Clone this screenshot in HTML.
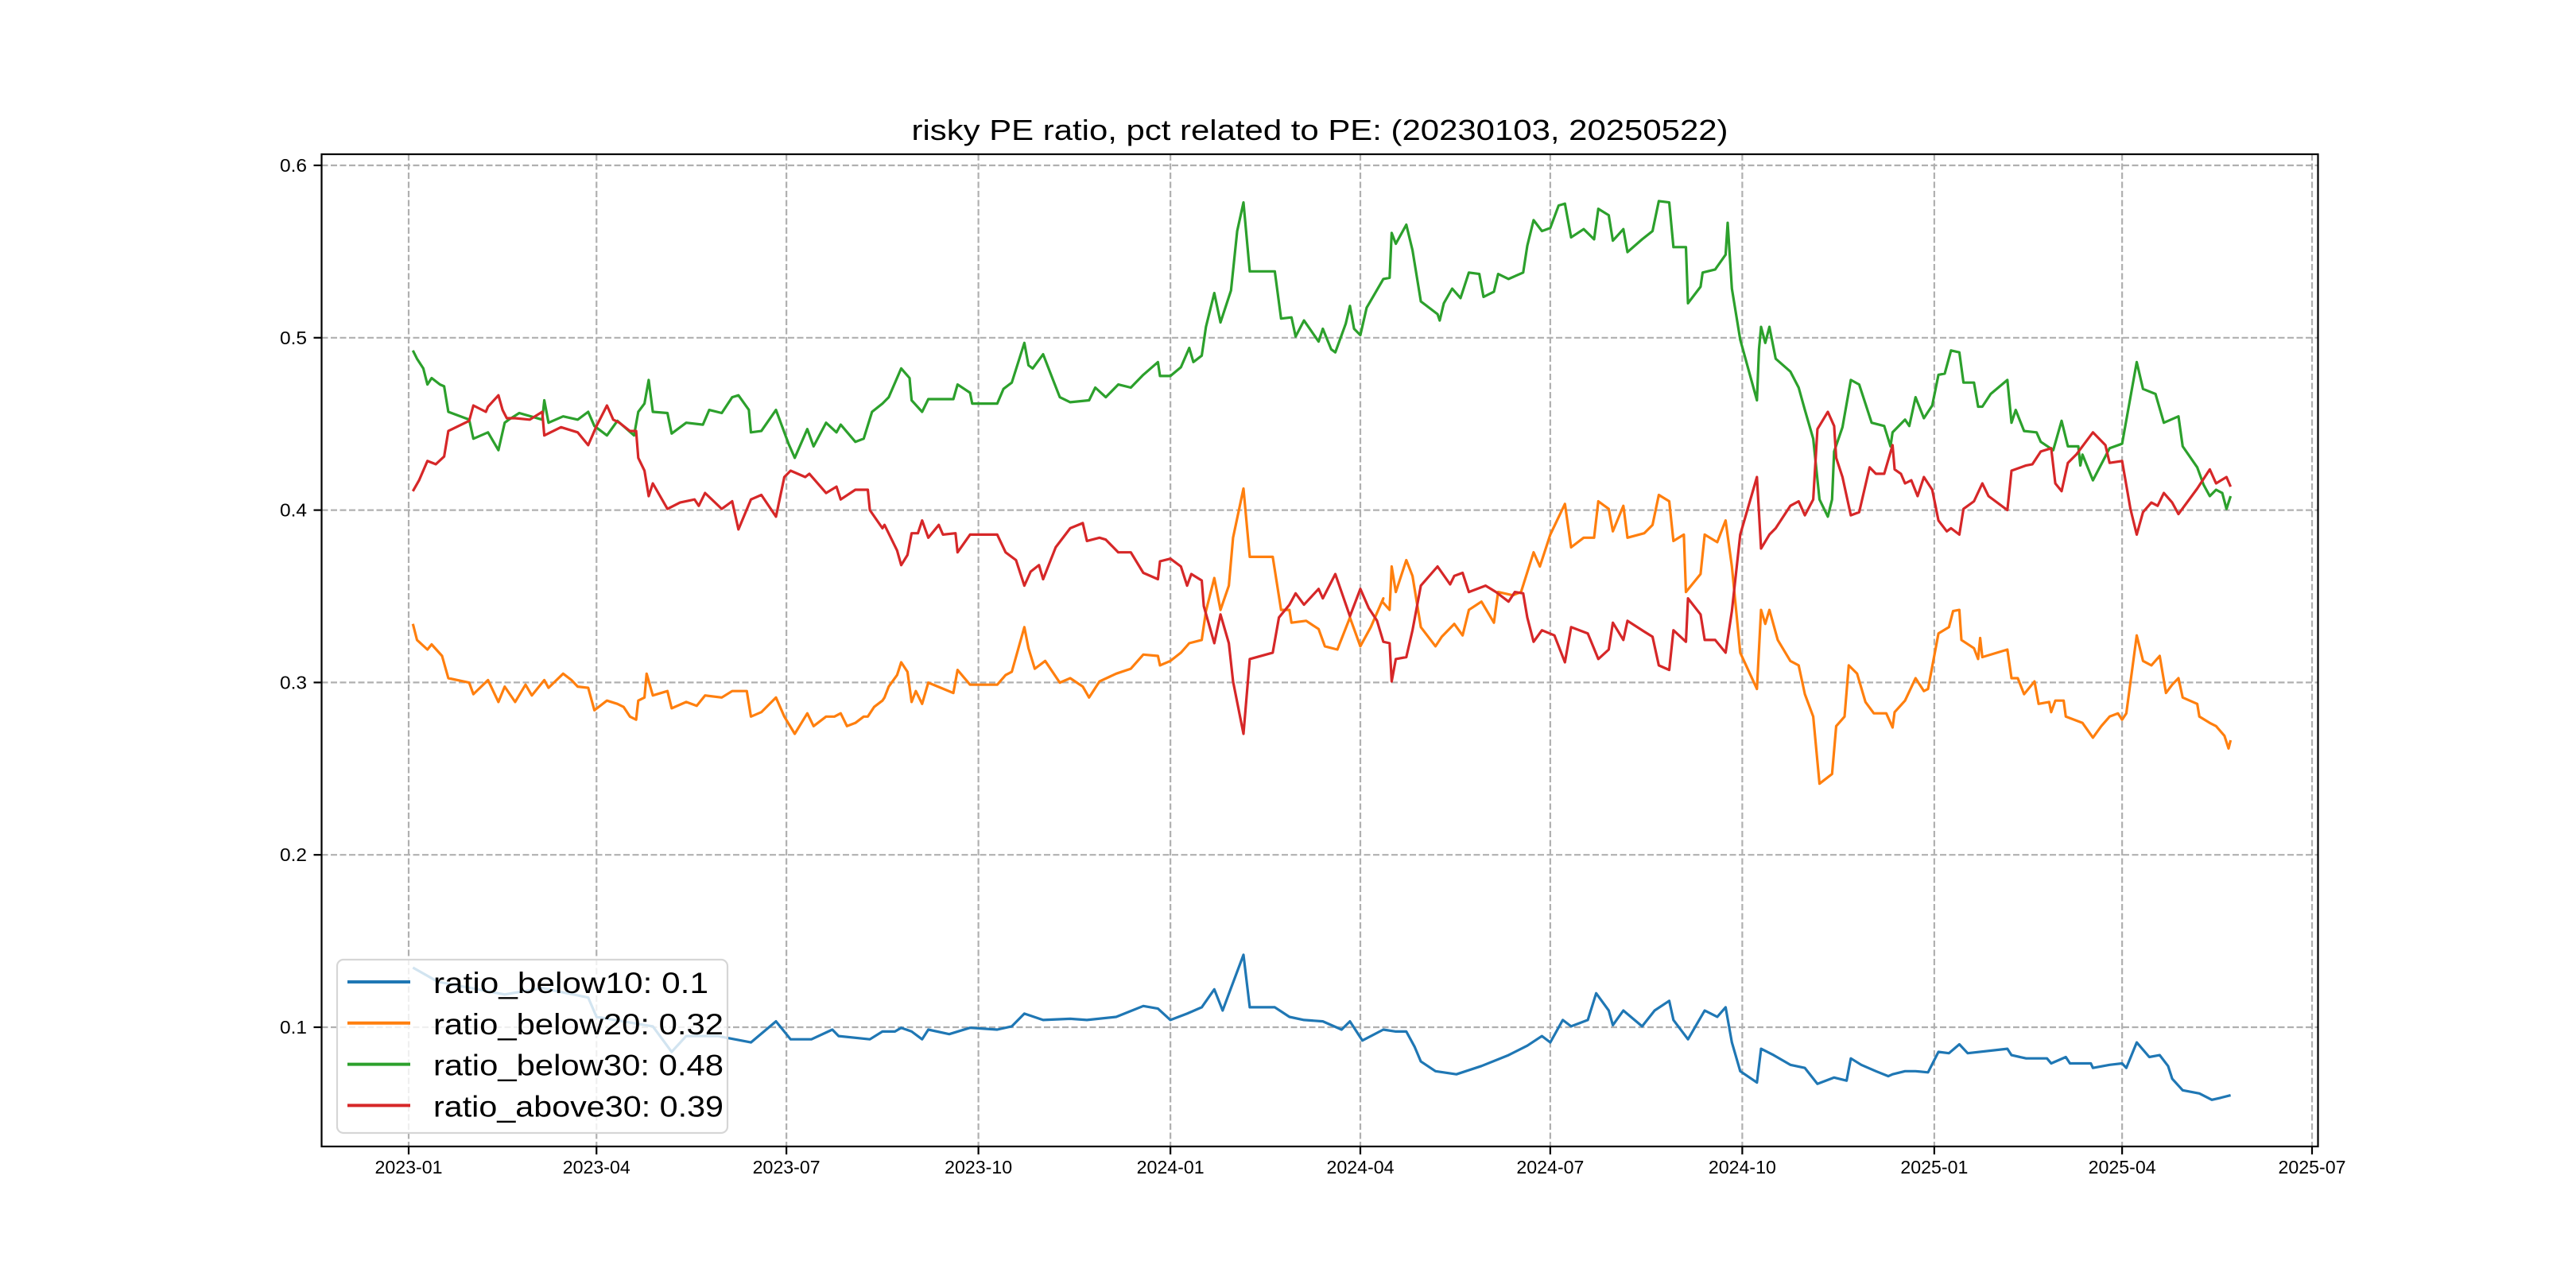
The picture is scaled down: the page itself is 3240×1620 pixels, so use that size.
<!DOCTYPE html>
<html><head><meta charset="utf-8"><style>
html,body{margin:0;padding:0;background:#fff;}
svg{display:block;}
text{font-family:"Liberation Sans","Noto Sans CJK SC",sans-serif;fill:#000;}
</style></head>
<body>
<svg id="chart" width="3240" height="1620" viewBox="0 0 3240 1620" xmlns="http://www.w3.org/2000/svg">
<rect x="0" y="0" width="3240" height="1620" fill="#fff"/>
<text x="1660" y="176" text-anchor="middle" font-size="36" textLength="1027" lengthAdjust="spacingAndGlyphs">risky PE ratio, pct related to PE: (20230103, 20250522)</text>
<g id="grid"></g>
<g id="series"></g>
<rect x="404.5" y="194" width="2511" height="1248" fill="none" stroke="#000" stroke-width="2.2"/>
<g id="ticks"></g>
<g id="legend"></g>
</svg>
<script>
// x ticks: day offsets from 2023-01-01
const xTickDays = [0, 90, 181, 273, 365, 456, 547, 639, 731, 821, 912];
const xTickLabels = ["2023-01","2023-04","2023-07","2023-10","2024-01","2024-04","2024-07","2024-10","2025-01","2025-04","2025-07"];
const yTickValues = [0.1, 0.2, 0.3, 0.4, 0.5, 0.6];
const yTickLabels = ["0.1","0.2","0.3","0.4","0.5","0.6"];
const seriesNames = ["ratio_below10: 0.1","ratio_below20: 0.32","ratio_below30: 0.48","ratio_above30: 0.39"];
const seriesColors = ["#1f77b4","#ff7f0e","#2ca02c","#d62728"];

const blueDays = [2,14,30,46,64,86,90,117,126,133,148,164,176,183,193,203,206,221,227,
233,236,241,246,249,259,269,282,289,295,304,317,325,339,352,359,365,373,380,386,390,394,400,403,415,422,429,438,447,451,457,467,
473,478,482,485,492,502,514,527,536,543,547,553,557,565,569,575,577,582,591,597,604,606,613,621,627,631,634,638,646,648,654,662,669,675,683,689,691,696,703,
709,711,717,722,728,733,738,743,747,766,768,775,785,787,794,796,806,807,815,821,823,828,834,839,843,845,850,858,864,868,873];
const blueValues = [0.1346,0.1264,0.1227,0.1190,0.1227,0.1172,0.1060,0.1005,0.0857,0.0949,0.0949,0.0912,0.1034,0.0930,0.0930,0.0986,0.0949,0.0930,0.0975,
0.0975,0.0997,0.0975,0.0930,0.0986,0.0960,0.0997,0.0986,0.1005,0.1079,0.1042,0.1049,0.1042,0.1060,0.1123,0.1108,0.1042,0.1079,0.1116,0.1220,0.1097,0.1227,0.1420,0.1116,0.1116,0.1060,0.1042,0.1034,0.0986,0.1034,0.0923,0.0986,
0.0975,0.0975,0.0886,0.0801,0.0745,0.0727,0.0775,0.0838,0.0893,0.0949,0.0912,0.1042,0.1005,0.1042,0.1197,0.1097,0.1012,0.1097,0.1005,0.1097,0.1153,0.1042,0.0930,0.1097,0.1060,0.1116,0.0912,0.0745,0.0679,0.0875,0.0838,0.0782,0.0764,0.0671,0.0708,0.0690,0.0819,0.0782,0.0745,
0.0716,0.0727,0.0745,0.0745,0.0738,0.0857,0.0849,0.0901,0.0849,0.0875,0.0838,0.0819,0.0819,0.0790,0.0827,0.0790,0.0790,0.0764,0.0782,0.0790,0.0764,0.0912,0.0827,0.0838,0.0775,0.0701,0.0634,0.0616,0.0579,0.0590,0.0605];

const orangeDays = [2,4,9,11,16,19,29,31,38,43,46,51,56,59,65,67,74,78,81,86,89,95,100,103,106,109,110,113,114,117,124,126,133,138,142,150,155,162,164,169,176,180,185,191,194,200,204,207,210,214,218,220,223,227,
228,230,234,236,239,241,243,246,249,255,261,263,269,282,286,289,295,297,300,305,312,317,323,326,331,339,346,352,359,360,365,370,374,380,382,386,389,393,395,400,403,414,418,422,423,430,436,439,445,451,456,461,467,
466.5,470,471,473,478,481,485,492,495,501,505,508,514,520,522,529,533,539,542,547,554,557,563,568,570,575,577,582,584,592,596,599,604,606,611,612,619,621,627,631,634,638,646,648,650,652,656,662,666,669,673,676,682,684,688,690,694,698,702,
708,711,712,717,722,726,728,733,738,740,743,744,750,752,753,754,766,768,771,774,779,781,786,787,789,793,794,802,807,811,815,819,821,823,828,831,835,839,842,845,848,850,857,858,863,866,870,872,873];
const orangeValues = [0.3340,0.3247,0.3191,0.3221,0.3154,0.3025,0.2999,0.2932,0.3014,0.2887,0.2976,0.2887,0.2987,0.2925,0.3014,0.2969,0.3051,0.3014,0.2976,0.2969,0.2839,0.2895,0.2876,0.2858,0.2802,0.2784,0.2895,0.2913,0.3051,0.2925,0.2950,0.2850,0.2887,0.2865,0.2925,0.2913,0.2950,0.2950,0.2802,0.2828,0.2913,0.2802,0.2702,0.2821,0.2747,0.2802,0.2802,0.2821,0.2747,0.2765,0.2802,0.2802,0.2858,0.2895,
0.2913,0.2976,0.3043,0.3117,0.3062,0.2887,0.2950,0.2876,0.2999,0.2969,0.2939,0.3073,0.2987,0.2987,0.3043,0.3062,0.3321,0.3199,0.3080,0.3125,0.2999,0.3025,0.2976,0.2913,0.3006,0.3051,0.3080,0.3162,0.3154,0.3099,0.3125,0.3173,0.3228,0.3247,0.3414,0.3606,0.3421,0.3562,0.3840,0.4125,0.3729,0.3729,0.3421,0.3421,0.3347,0.3358,0.3310,0.3210,0.3191,0.3377,0.3210,0.3321,0.3488,
0.3469,0.3421,0.3673,0.3525,0.3710,0.3618,0.3321,0.3210,0.3265,0.3340,0.3273,0.3421,0.3469,0.3347,0.3525,0.3506,0.3525,0.3755,0.3673,0.3858,0.4036,0.3784,0.3840,0.3840,0.4051,0.4007,0.3877,0.4025,0.3840,0.3866,0.3914,0.4088,0.4051,0.3821,0.3858,0.3525,0.3629,0.3858,0.3814,0.3940,0.3673,0.3173,0.2962,0.3421,0.3340,0.3421,0.3247,0.3125,0.3099,0.2932,0.2802,0.2413,0.2469,0.2747,0.2802,0.3099,0.3051,0.2887,0.2821,
0.2821,0.2739,0.2828,0.2895,0.3025,0.2950,0.2962,0.3284,0.3321,0.3414,0.3421,0.3247,0.3199,0.3136,0.3258,0.3147,0.3191,0.3025,0.3025,0.2932,0.3006,0.2876,0.2887,0.2828,0.2895,0.2895,0.2802,0.2765,0.2680,0.2747,0.2802,0.2821,0.2784,0.2821,0.3273,0.3125,0.3099,0.3154,0.2939,0.2987,0.3025,0.2913,0.2876,0.2802,0.2765,0.2747,0.2691,0.2617,0.2665];

const greenDays = [2,4,7,9,11,15,17,19,29,31,38,43,46,48,53,64,65,67,74,81,86,89,95,100,108,110,113,115,117,124,126,133,141,144,150,155,158,163,164,169,176,182,185,189,191,194,200,205,207,214,218,222,227,
230,236,240,241,246,249,255,261,263,269,270,282,285,289,295,297,299,304,309,312,317,326,329,334,340,346,352,359,360,365,370,374,376,380,382,386,389,394,397,400,403,415,418,423,425,429,436,438,442,444,449,451,453,456,459,467,
470,471,473,478,481,485,493,494,496,500,504,508,513,515,520,522,527,534,536,539,543,547,551,554,557,563,568,570,575,577,582,584,591,596,599,604,606,612,613,619,620,626,631,632,634,638,646,647,648,650,652,655,662,666,669,673,676,680,682,683,687,691,695,701,
707,710,711,717,719,722,726,730,733,736,739,743,745,750,752,754,758,766,768,770,774,780,782,788,792,795,800,801,802,807,815,821,828,831,837,841,848,850,857,860,863,866,869,871,873];
const greenValues = [0.4926,0.4878,0.4822,0.4729,0.4766,0.4729,0.4718,0.4570,0.4525,0.4414,0.4451,0.4348,0.4507,0.4525,0.4563,0.4525,0.4637,0.4507,0.4544,0.4525,0.4570,0.4488,0.4433,0.4518,0.4433,0.4570,0.4618,0.4755,0.4570,0.4563,0.4444,0.4507,0.4496,0.4581,0.4563,0.4655,0.4666,0.4581,0.4451,0.4459,0.4581,0.4385,0.4303,0.4414,0.4470,0.4370,0.4507,0.4451,0.4496,0.4396,0.4414,0.4570,0.4618,
0.4655,0.4822,0.4766,0.4637,0.4570,0.4644,0.4644,0.4644,0.4729,0.4681,0.4618,0.4618,0.4703,0.4740,0.4970,0.4840,0.4822,0.4904,0.4748,0.4655,0.4626,0.4637,0.4711,0.4655,0.4729,0.4711,0.4785,0.4859,0.4778,0.4778,0.4829,0.4941,0.4859,0.4896,0.5063,0.5259,0.5089,0.5274,0.5619,0.5785,0.5385,0.5385,0.5111,0.5118,0.5007,0.5100,0.4978,0.5052,0.4933,0.4915,0.5081,0.5185,0.5052,0.5015,0.5174,0.5341,
0.5348,0.5608,0.5545,0.5656,0.5508,0.5211,0.5137,0.5100,0.5200,0.5285,0.5230,0.5378,0.5370,0.5237,0.5267,0.5370,0.5341,0.5378,0.5534,0.5682,0.5619,0.5637,0.5767,0.5778,0.5582,0.5630,0.5571,0.5748,0.5711,0.5563,0.5630,0.5497,0.5571,0.5619,0.5793,0.5785,0.5526,0.5526,0.5200,0.5296,0.5378,0.5396,0.5482,0.5667,0.5285,0.4989,0.4637,0.4933,0.5063,0.4970,0.5063,0.4878,0.4804,0.4711,0.4581,0.4414,0.4062,0.3962,0.4062,0.4340,0.4481,0.4755,0.4729,0.4507,
0.4488,0.4370,0.4451,0.4525,0.4488,0.4655,0.4533,0.4607,0.4785,0.4792,0.4926,0.4915,0.4740,0.4740,0.4600,0.4600,0.4674,0.4755,0.4507,0.4581,0.4459,0.4451,0.4396,0.4348,0.4518,0.4370,0.4370,0.4259,0.4322,0.4173,0.4359,0.4385,0.4859,0.4703,0.4674,0.4507,0.4544,0.4370,0.4248,0.4148,0.4081,0.4118,0.4099,0.4007,0.4081];

const redDays = [2,5,9,13,17,19,29,31,37,38,43,45,47,51,58,64,65,73,81,86,90,95,98,101,106,109,110,113,115,117,124,130,137,139,142,150,155,158,164,169,176,180,183,190,192,200,205,207,214,220,221,227,
228,234,236,239,241,244,246,249,254,256,262,263,269,282,286,291,295,298,302,304,310,317,323,325,331,334,340,346,352,359,360,365,370,373,375,380,381,386,389,393,395,400,403,414,417,422,425,429,436,438,444,451,456,460,464,467,
470,471,473,478,481,485,493,499,501,505,508,516,521,527,530,534,536,539,543,549,554,557,565,570,575,577,582,584,592,596,599,604,606,612,613,619,621,626,631,634,638,646,648,652,655,662,666,669,673,675,680,683,684,687,691,695,700,
703,707,711,712,715,717,720,723,726,730,733,737,739,743,745,750,754,757,766,768,775,778,782,787,789,792,795,799,807,813,815,821,825,828,831,835,838,841,845,848,857,863,866,871,873];
const redValues = [0.4110,0.4173,0.4285,0.4266,0.4311,0.4459,0.4518,0.4607,0.4570,0.4600,0.4666,0.4581,0.4533,0.4533,0.4525,0.4570,0.4433,0.4481,0.4451,0.4377,0.4488,0.4607,0.4525,0.4507,0.4459,0.4459,0.4303,0.4229,0.4081,0.4155,0.4007,0.4044,0.4062,0.4025,0.4099,0.4007,0.4051,0.3888,0.4062,0.4088,0.3962,0.4192,0.4229,0.4192,0.4211,0.4099,0.4136,0.4062,0.4118,0.4118,0.4000,0.3895,
0.3914,0.3766,0.3681,0.3740,0.3866,0.3866,0.3940,0.3840,0.3914,0.3858,0.3866,0.3755,0.3858,0.3858,0.3755,0.3710,0.3562,0.3643,0.3681,0.3599,0.3784,0.3895,0.3925,0.3821,0.3840,0.3829,0.3755,0.3755,0.3636,0.3599,0.3703,0.3718,0.3673,0.3562,0.3629,0.3592,0.3443,0.3228,0.3395,0.3228,0.3006,0.2702,0.3136,0.3173,0.3377,0.3451,0.3517,0.3451,0.3543,0.3488,0.3629,0.3384,0.3543,0.3432,0.3358,0.3236,
0.3228,0.3006,0.3136,0.3147,0.3303,0.3562,0.3673,0.3569,0.3618,0.3636,0.3525,0.3562,0.3525,0.3469,0.3525,0.3517,0.3377,0.3236,0.3303,0.3273,0.3117,0.3321,0.3284,0.3136,0.3191,0.3347,0.3247,0.3358,0.3295,0.3265,0.3099,0.3073,0.3303,0.3236,0.3488,0.3395,0.3247,0.3247,0.3173,0.3414,0.3858,0.4192,0.3777,0.3858,0.3895,0.4025,0.4051,0.3970,0.4062,0.4470,0.4570,0.4488,0.4303,0.4192,0.3970,0.3988,0.4248,
0.4211,0.4211,0.4377,0.4236,0.4211,0.4155,0.4173,0.4081,0.4192,0.4118,0.3940,0.3877,0.3895,0.3858,0.4007,0.4051,0.4155,0.4081,0.4000,0.4229,0.4259,0.4266,0.4340,0.4359,0.4155,0.4110,0.4274,0.4322,0.4451,0.4377,0.4274,0.4285,0.4007,0.3858,0.3988,0.4044,0.4025,0.4099,0.4044,0.3977,0.4125,0.4236,0.4155,0.4192,0.4136];

const NS = "http://www.w3.org/2000/svg";
const X0 = 514, PXDAY = 2.625;
function xScale(day){ return X0 + day * PXDAY; }
function yScale(v){ return 1292 - (v - 0.1) * 2168; }

const grid = document.getElementById('grid');
const ticks = document.getElementById('ticks');
xTickDays.forEach((d, i) => {
  const x = xScale(d);
  const gl = document.createElementNS(NS, 'line');
  
  
  gl.setAttribute('x1', x); gl.setAttribute('x2', x); gl.setAttribute('y1', 194); gl.setAttribute('y2', 1442);
  gl.setAttribute('stroke', '#b0b0b0'); gl.setAttribute('stroke-width', 2.2); gl.setAttribute('stroke-dasharray', '8,3.5');
  grid.appendChild(gl);
  const tk = document.createElementNS(NS, 'line');
  
  
  tk.setAttribute('x1', x); tk.setAttribute('x2', x); tk.setAttribute('y1', 1442); tk.setAttribute('y2', 1452);
  tk.setAttribute('stroke', '#000'); tk.setAttribute('stroke-width', 2.2);
  ticks.appendChild(tk);
  const t = document.createElementNS(NS, 'text');
  
  
  t.setAttribute('x', x); t.setAttribute('y', 1476);
  t.setAttribute('text-anchor', 'middle'); t.setAttribute('font-size', 23);
  t.setAttribute('textLength', 85); t.setAttribute('lengthAdjust', 'spacingAndGlyphs');
  t.textContent = xTickLabels[i];
  ticks.appendChild(t);
});
yTickValues.forEach((v, i) => {
  const y = yScale(v);
  const gl = document.createElementNS(NS, 'line');
  
  
  gl.setAttribute('x1', 404.5); gl.setAttribute('x2', 2915.5); gl.setAttribute('y1', y); gl.setAttribute('y2', y);
  gl.setAttribute('stroke', '#b0b0b0'); gl.setAttribute('stroke-width', 2.2); gl.setAttribute('stroke-dasharray', '8,3.5');
  grid.appendChild(gl);
  const tk = document.createElementNS(NS, 'line');
  
  
  tk.setAttribute('x1', 394.5); tk.setAttribute('x2', 404.5); tk.setAttribute('y1', y); tk.setAttribute('y2', y);
  tk.setAttribute('stroke', '#000'); tk.setAttribute('stroke-width', 2.2);
  ticks.appendChild(tk);
  const t = document.createElementNS(NS, 'text');
  
  
  t.setAttribute('x', 386); t.setAttribute('y', y + 8);
  t.setAttribute('text-anchor', 'end'); t.setAttribute('font-size', 23);
  t.setAttribute('textLength', 34); t.setAttribute('lengthAdjust', 'spacingAndGlyphs');
  t.textContent = yTickLabels[i];
  ticks.appendChild(t);
});

const seriesG = document.getElementById('series');
const allDays = [blueDays, orangeDays, greenDays, redDays];
const allValues = [blueValues, orangeValues, greenValues, redValues];
const lineNames = ['line-ratio-below10','line-ratio-below20','line-ratio-below30','line-ratio-above30'];
allDays.forEach((days, s) => {
  const vals = allValues[s];
  let d = '';
  for (let i = 0; i < days.length && i < vals.length; i++) {
    d += (i ? 'L' : 'M') + xScale(days[i]).toFixed(1) + ',' + yScale(vals[i]).toFixed(1);
  }
  const p = document.createElementNS(NS, 'path');
  
  
  p.setAttribute('d', d);
  p.setAttribute('fill', 'none'); p.setAttribute('stroke', seriesColors[s]);
  p.setAttribute('stroke-width', 3.2); p.setAttribute('stroke-linejoin', 'round');
  seriesG.appendChild(p);
});

const legend = document.getElementById('legend');
const box = document.createElementNS(NS, 'rect');


box.setAttribute('x', 424); box.setAttribute('y', 1207); box.setAttribute('width', 491); box.setAttribute('height', 218);
box.setAttribute('rx', 8); box.setAttribute('fill', 'rgba(255,255,255,0.8)'); box.setAttribute('stroke', '#d6d6d6'); box.setAttribute('stroke-width', 2.2);
legend.appendChild(box);
seriesNames.forEach((name, i) => {
  const y = 1235 + i * 51.8;
  const ln = document.createElementNS(NS, 'line');
  
  
  ln.setAttribute('x1', 437); ln.setAttribute('x2', 516); ln.setAttribute('y1', y); ln.setAttribute('y2', y);
  ln.setAttribute('stroke', seriesColors[i]); ln.setAttribute('stroke-width', 4);
  legend.appendChild(ln);
  const t = document.createElementNS(NS, 'text');
  
  
  t.setAttribute('x', 545); t.setAttribute('y', y + 14);
  t.setAttribute('font-size', 37);
  t.setAttribute('textLength', (name.length * 19.2).toFixed(0)); t.setAttribute('lengthAdjust', 'spacingAndGlyphs');
  t.textContent = name;
  legend.appendChild(t);
});
</script>
</body></html>
